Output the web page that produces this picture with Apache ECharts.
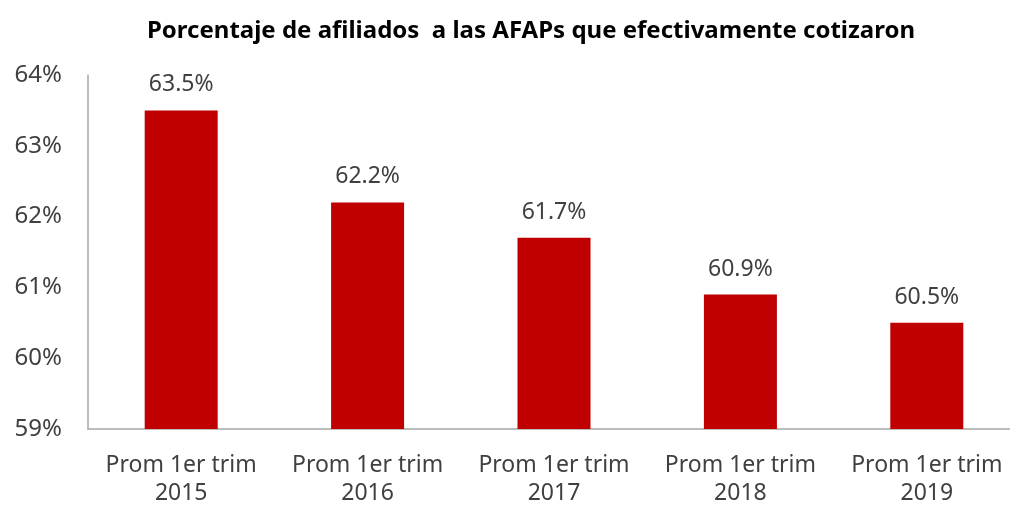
<!DOCTYPE html>
<html>
<head>
<meta charset="utf-8">
<script src="https://cdn.jsdelivr.net/npm/echarts@6/dist/echarts.min.js"></script>
<style>
  html, body { margin: 0; padding: 0; background: #fff; }
  #chart { width: 1010px; height: 506px; }
</style>
</head>
<body>
<div id="chart"></div>
<script>
const titleText = 'Porcentaje de afiliados  a las AFAPs que efectivamente cotizaron'
const categories = ['Prom 1er trim\n2015', 'Prom 1er trim\n2016', 'Prom 1er trim\n2017', 'Prom 1er trim\n2018', 'Prom 1er trim\n2019']
const values = [63.5, 62.2, 61.7, 60.9, 60.5]
const yMin = 59
const yMax = 64

const font = 'Noto Sans'
const chart = echarts.init(document.getElementById('chart'))

chart.setOption({
  animation: false,
  title: {
    text: titleText,
    left: 526,
    textAlign: 'center',
    top: 14,
    textStyle: {
      fontFamily: font,
      fontSize: 24,
      fontWeight: 'bold',
      color: '#000'
    }
  },
  grid: {
    left: 88,
    right: -10,
    top: 75,
    bottom: 77,
    outerBoundsMode: 'none',
    containLabel: false
  },
  xAxis: {
    type: 'category',
    data: categories,
    axisTick: { show: false },
    axisLine: { lineStyle: { color: '#a6a6a6', width: 1.5 } },
    axisLabel: {
      interval: 0,
      hideOverlap: false,
      margin: 22,
      fontFamily: font,
      fontSize: 23,
      lineHeight: 28,
      color: '#404040'
    }
  },
  yAxis: {
    type: 'value',
    min: yMin,
    max: yMax,
    interval: 1,
    splitLine: { show: false },
    axisTick: { show: false },
    axisLine: { show: true, lineStyle: { color: '#a6a6a6', width: 1.5 } },
    axisLabel: {
      margin: 26,
      fontFamily: font,
      fontSize: 24,
      color: '#404040',
      formatter: v => v + '%'
    }
  },
  series: [{
    type: 'bar',
    data: values,
    barWidth: 73,
    itemStyle: { color: '#c00000' },
    label: {
      show: true,
      position: 'top',
      distance: 14,
      fontFamily: font,
      fontSize: 23,
      color: '#404040',
      formatter: p => p.value.toFixed(1) + '%'
    }
  }]
})
</script>
</body>
</html>
